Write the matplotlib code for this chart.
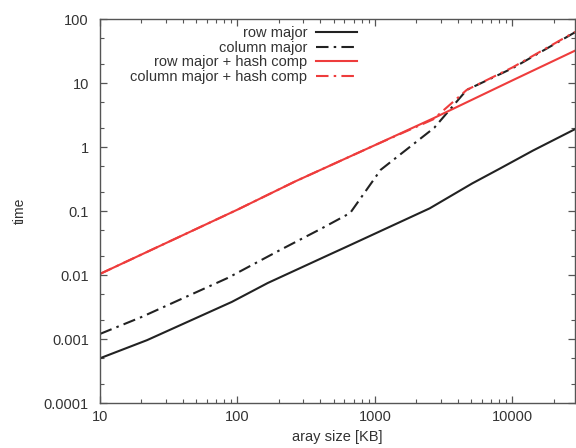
import matplotlib
matplotlib.use("Agg")
import matplotlib.pyplot as plt
import matplotlib.ticker as mticker

plt.rcParams["font.family"] = ["Liberation Sans", "DejaVu Sans"]

# array size [KB] and time
row_x = [10, 22, 91, 166, 470, 607, 2500, 5100, 8100, 14100, 28500]
row_y = [0.0005, 0.00096, 0.0038, 0.0075, 0.021, 0.027, 0.11, 0.27, 0.46, 0.88, 1.9]

col_x = [10, 20, 85, 200, 400, 660, 1100, 2700, 4650, 10000, 28500]
col_y = [0.0012, 0.0022, 0.009, 0.024, 0.052, 0.093, 0.44, 2.0, 7.8, 17, 62]

hash_x = [10, 100, 263, 1000, 2650, 10000, 28500]
hash_y = [0.0104, 0.105, 0.29, 1.07, 2.8, 11, 32]

colhash_x = [10, 100, 263, 1000, 2650, 4650, 10000, 28500]
colhash_y = [0.0104, 0.105, 0.29, 1.07, 2.7, 7.8, 17.5, 63]

BLACK = "#222222"
RED = "#ee3c3c"
DASHDOT = (6, 2.5, 1.2, 2.5)

fig = plt.figure(figsize=(5.76, 4.48), dpi=100)
ax = fig.add_axes([100 / 576, 1 - 403 / 448, 475 / 576, 384 / 448])

ax.plot(row_x, row_y, color=BLACK, lw=1.5, label="row major")
ax.plot(col_x, col_y, color=BLACK, lw=1.5, dashes=DASHDOT, label="column major")
ax.plot(hash_x, hash_y, color=RED, lw=1.5, label="row major + hash comp")
ax.plot(colhash_x, colhash_y, color=RED, lw=1.5, dashes=DASHDOT,
        label="column major + hash comp")

ax.set_xscale("log")
ax.set_yscale("log")
ax.set_xlim(10, 28500)
ax.set_ylim(0.0001, 100)

ax.xaxis.set_major_locator(mticker.FixedLocator([10, 100, 1000, 10000]))
ax.xaxis.set_major_formatter(mticker.FixedFormatter(["10", "100", "1000", "10000"]))
ax.xaxis.set_minor_locator(mticker.LogLocator(base=10, subs=range(2, 10), numticks=20))
ax.xaxis.set_minor_formatter(mticker.NullFormatter())

ylocs = [0.0001, 0.001, 0.01, 0.1, 1, 10, 100]
ax.yaxis.set_major_locator(mticker.FixedLocator(ylocs))
ax.yaxis.set_major_formatter(
    mticker.FixedFormatter(["0.0001", "0.001", "0.01", "0.1", "1", "10", "100"]))
ax.yaxis.set_minor_locator(mticker.LogLocator(base=10, subs=(2, 5), numticks=20))
ax.yaxis.set_minor_formatter(mticker.NullFormatter())

ax.tick_params(which="both", direction="in", top=True, right=True,
               color="#555555", labelcolor="#333333", labelsize=10.5)
ax.tick_params(which="major", length=5, width=0.9)
ax.tick_params(which="minor", length=3, width=0.8)
ax.tick_params(axis="y", pad=8)
ax.tick_params(axis="x", pad=5)

for sp in ax.spines.values():
    sp.set_color("#555555")
    sp.set_linewidth(1.0)

ax.set_xlabel("aray size [KB]", fontsize=10.5, color="#333333", labelpad=4)
ax.set_ylabel("time", fontsize=10, color="#333333", labelpad=12)

ax.legend(loc="upper right", bbox_to_anchor=(357 / 576, 1 - 26 / 448),
          bbox_transform=fig.transFigure, frameon=False, markerfirst=False,
          fontsize=10.5, labelspacing=0.05, handlelength=2.8, handletextpad=0.6,
          borderpad=0, borderaxespad=0, labelcolor="#333333")

fig.savefig("out.png", dpi=100)
